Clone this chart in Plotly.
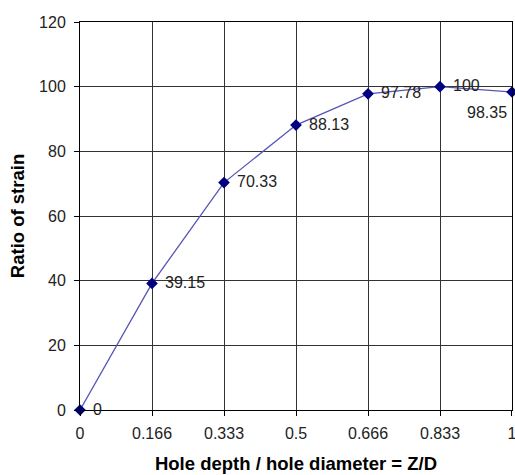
import plotly.graph_objects as go

x_labels = ["0", "0.166", "0.333", "0.5", "0.666", "0.833", "1"]
ratio_of_strain = [0, 39.15, 70.33, 88.13, 97.78, 100, 98.35]
value_labels = ["0", "39.15", "70.33", "88.13", "97.78", "100", "98.35"]
y_ticks = [0, 20, 40, 60, 80, 100, 120]

FONT = "Liberation Sans, Arial, sans-serif"

fig = go.Figure()
fig.add_trace(go.Scatter(
    x=x_labels, y=ratio_of_strain, mode="lines+markers",
    line=dict(color="#5555b5", width=1.3),
    marker=dict(symbol="diamond", size=9, color="#000080"),
    cliponaxis=False, showlegend=False, hoverinfo="skip",
))

annotations = []
n = len(x_labels)
for i, (yv, lab) in enumerate(zip(ratio_of_strain, value_labels)):
    if i == n - 1:
        annotations.append(dict(x=i, y=yv, text=lab, showarrow=False, xanchor="right",
                                yanchor="middle", xshift=-3, yshift=-20,
                                font=dict(family=FONT, size=16, color="#222")))
    else:
        annotations.append(dict(x=i, y=yv, text=lab, showarrow=False, xanchor="left",
                                yanchor="middle", xshift=11, yshift=1,
                                font=dict(family=FONT, size=16, color="#222")))

fig.update_layout(
    width=515, height=475,
    margin=dict(l=80, r=3, t=22, b=65),
    paper_bgcolor="white", plot_bgcolor="white",
    font=dict(family=FONT, size=16, color="#222"),
    annotations=annotations,
    xaxis=dict(
        type="category", range=[-0.0001, n - 1 + 0.0001], automargin=False,
        showgrid=True, gridcolor="#333", gridwidth=1,
        showline=True, linecolor="#000", linewidth=1, mirror=True,
        ticks="outside", ticklen=5, tickcolor="#000", ticklabelstandoff=4,
        tickfont=dict(family=FONT, size=16, color="#222"),
        title=dict(text="<b>Hole depth / hole diameter = Z/D</b>",
                   font=dict(family=FONT, size=18.5, color="#000")),
        zeroline=False,
    ),
    yaxis=dict(
        range=[0, 120], tickvals=y_ticks, automargin=True,
        showgrid=True, gridcolor="#333", gridwidth=1,
        showline=True, linecolor="#000", linewidth=1, mirror=True,
        ticks="outside", ticklen=5, tickcolor="#000", ticklabelstandoff=5,
        tickfont=dict(family=FONT, size=16, color="#222"),
        title=dict(text="<b>Ratio of strain</b>", standoff=9,
                   font=dict(family=FONT, size=18.5, color="#000")),
        zeroline=False,
    ),
)

fig.write_html("out.html", config={"displayModeBar": False},
               post_script="document.body.style.margin='0';document.body.style.overflow='hidden';")
